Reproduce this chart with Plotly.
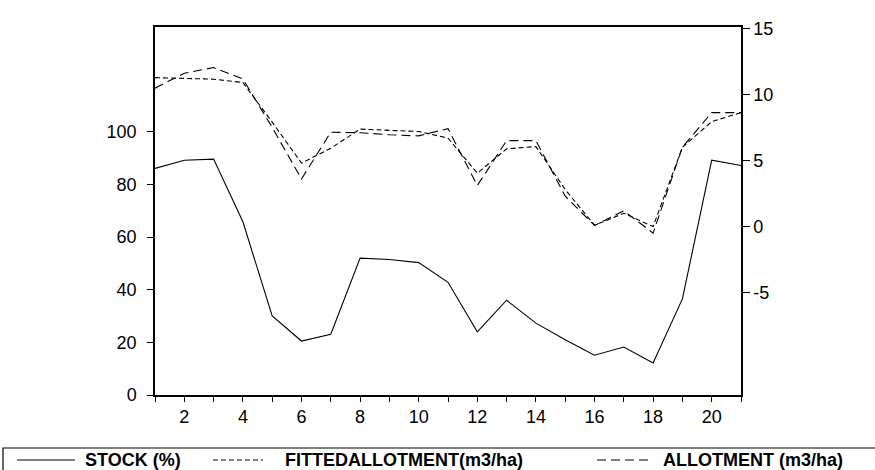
import plotly.graph_objects as go

# ---- data ----
periods = list(range(1, 22))
stock = [86.1, 89.2, 89.6, 65.8, 30.0, 20.5, 23.1, 52.0, 51.5, 50.3, 42.8,
         24.0, 36.0, 27.3, 21.0, 15.1, 18.2, 12.2, 36.5, 89.2, 87.2]
fitted_allotment = [11.27, 11.2, 11.15, 10.9, 7.9, 4.8, 5.93, 7.37, 7.3, 7.19, 6.69,
                    4.04, 5.88, 6.05, 2.8, 0.1, 1.0, 0.0, 6.0, 7.94, 8.62]
allotment = [10.47, 11.6, 12.03, 11.17, 7.5, 3.6, 7.14, 7.1, 6.94, 6.86, 7.41,
             3.1, 6.5, 6.5, 2.3, 0.08, 1.19, -0.5, 6.0, 8.62, 8.62]

left_ticks = [0, 20, 40, 60, 80, 100]
right_ticks = [-5, 0, 5, 10, 15]
right_tick_labels = ["-5", "0", "5", "10", "15"]

names = ["STOCK (%)", "FITTEDALLOTMENT(m3/ha)", "ALLOTMENT (m3/ha)"]
dashes = ["solid", "5px,3px", "9px,5px"]

FONT = "Liberation Sans, Arial, sans-serif"
W, H = 875, 470
ML, MR, MT, MB = 155, 134, 27, 75
PW, PH = W - ML - MR, H - MT - MB


def px2x(px):
    return (px - ML) / PW


def px2y(py):
    return (H - MB - py) / PH


fig = go.Figure()
fig.add_trace(go.Scatter(x=periods, y=stock, name=names[0], mode="lines",
                         line=dict(color="black", width=1.1, dash=dashes[0]),
                         yaxis="y"))
fig.add_trace(go.Scatter(x=periods, y=fitted_allotment, name=names[1], mode="lines",
                         line=dict(color="black", width=1.1, dash=dashes[1]),
                         yaxis="y2"))
fig.add_trace(go.Scatter(x=periods, y=allotment, name=names[2], mode="lines",
                         line=dict(color="black", width=1.1, dash=dashes[2]),
                         yaxis="y2"))

# ---- legend box drawn manually ----
shapes = [dict(type="rect", xref="paper", yref="paper",
               x0=px2x(3), x1=px2x(880), y0=px2y(448), y1=px2y(520),
               line=dict(color="black", width=1.2), fillcolor="rgba(0,0,0,0)",
               layer="above")]
annotations = []
leg_items = [(17, 75, 83), (213, 263, 283), (597, 650, 661)]
for (x0, x1, tx), nm, ds in zip(leg_items, names, dashes):
    shapes.append(dict(type="line", xref="paper", yref="paper",
                       x0=px2x(x0), x1=px2x(x1), y0=px2y(460), y1=px2y(460),
                       line=dict(color="black", width=1.1, dash=ds)))
    annotations.append(dict(text=nm, xref="paper", yref="paper",
                            x=px2x(tx), y=px2y(460), xanchor="left", yanchor="middle",
                            showarrow=False,
                            font=dict(family=FONT, size=18, color="black", weight="bold")))

tick_font = dict(family=FONT, size=18, color="black")

fig.update_layout(
    width=W, height=H,
    margin=dict(l=ML, r=MR, t=MT, b=MB),
    paper_bgcolor="white", plot_bgcolor="white",
    showlegend=False,
    font=dict(family=FONT, size=18, color="black"),
    xaxis=dict(range=[1, 21], tickmode="linear", tick0=0, dtick=2,
               ticks="outside", ticklen=5, tickwidth=1.2, tickcolor="black",
               minor=dict(tick0=1, dtick=1, ticks="outside", ticklen=5,
                          tickwidth=1.2, tickcolor="black"),
               showline=True, linecolor="black", linewidth=1.5, mirror=True,
               showgrid=False, zeroline=False, tickfont=tick_font),
    yaxis=dict(range=[0, 139.8], tickvals=left_ticks,
               ticks="outside", ticklen=6, tickwidth=1.2, tickcolor="black",
               ticklabelstandoff=7,
               showline=True, linecolor="black", linewidth=1.5,
               showgrid=False, zeroline=False, tickfont=tick_font),
    yaxis2=dict(range=[-12.75, 15.1], tickvals=right_ticks, ticktext=right_tick_labels,
                overlaying="y", side="right",
                ticks="outside", ticklen=7, tickwidth=1.2, tickcolor="black",
                showline=True, linecolor="black", linewidth=1.5,
                showgrid=False, zeroline=False, tickfont=tick_font),
    shapes=shapes,
    annotations=annotations,
)

fig.write_html("out.html",
               config={"displayModeBar": False},
               post_script="document.body.style.margin='0px';document.body.style.padding='0px';")
